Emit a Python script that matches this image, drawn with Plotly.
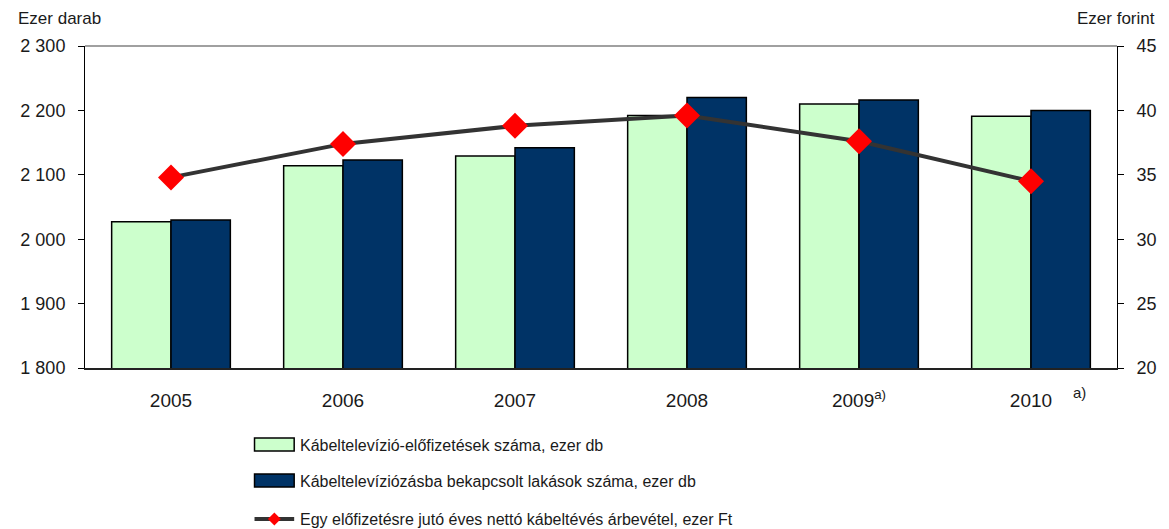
import plotly.graph_objects as go

years = ["2005", "2006", "2007", "2008", "2009", "2010"]
year_labels = ["2005", "2006", "2007", "2008", "2009<sup>a)</sup>", "2010"]
subscriptions = [2027, 2114, 2129, 2192, 2210, 2191]
connected_homes = [2030, 2123, 2142, 2220, 2216, 2200]
revenue_per_sub = [34.8, 37.4, 38.8, 39.6, 37.6, 34.5]

left_ticks = [1800, 1900, 2000, 2100, 2200, 2300]
left_ticktext = ["1 800", "1 900", "2 000", "2 100", "2 200", "2 300"]
right_ticks = [20, 25, 30, 35, 40, 45]

names = [
    "Kábeltelevízió-előfizetések száma, ezer db",
    "Kábeltelevíziózásba bekapcsolt lakások száma, ezer db",
    "Egy előfizetésre jutó éves nettó kábeltévés árbevétel, ezer Ft",
]

OFF = 8  # page body margin
W, H = 1169 - OFF, 529 - OFF
L, R, T, B = 82 - OFF, 1123 - OFF, 46 - OFF, 368 - OFF
FONT = "Liberation Sans, Arial, sans-serif"
TXT = "#1a1a1a"

def px(x):
    return (x - OFF - L) / (R - L)

def py(y):
    return (B - (y - OFF)) / (B - T)

fig = go.Figure()
fig.add_trace(go.Bar(x=years, y=subscriptions, name=names[0], marker=dict(color="#CCFFCC", line=dict(color="black", width=1.5)), showlegend=False))
fig.add_trace(go.Bar(x=years, y=connected_homes, name=names[1], marker=dict(color="#003366", line=dict(color="black", width=1.5)), showlegend=False))
fig.add_trace(go.Scatter(x=years, y=revenue_per_sub, name=names[2], yaxis="y2", mode="lines+markers",
                         line=dict(color="#333333", width=4),
                         marker=dict(symbol="diamond", size=20, color="#FF0000", line=dict(width=0)),
                         showlegend=False))

shapes = []
annotations = []
shapes.append(dict(type="line", xref="paper", yref="paper", x0=0, x1=1, y0=1, y1=1, line=dict(color="#808080", width=1.5)))

rows = [445, 481, 519]
shapes.append(dict(type="rect", xref="paper", yref="paper", x0=px(253), x1=px(293), y0=py(451), y1=py(438),
                   fillcolor="#CCFFCC", line=dict(color="black", width=1.5)))
shapes.append(dict(type="rect", xref="paper", yref="paper", x0=px(253), x1=px(293), y0=py(487), y1=py(474),
                   fillcolor="#003366", line=dict(color="black", width=1.5)))
shapes.append(dict(type="line", xref="paper", yref="paper", x0=px(253), x1=px(293), y0=py(519), y1=py(519),
                   line=dict(color="#333333", width=4)))
cx, cy, r = 273, 519, 6.5
path = "M {} {} L {} {} L {} {} L {} {} Z".format(px(cx - r), py(cy), px(cx), py(cy - r), px(cx + r), py(cy), px(cx), py(cy + r))
shapes.append(dict(type="path", xref="paper", yref="paper", path=path, fillcolor="#FF0000", line=dict(width=0)))
for name, yy in zip(names, rows):
    annotations.append(dict(text=name, xref="paper", yref="paper", x=px(297), y=py(yy), xanchor="left", yanchor="middle",
                            showarrow=False, font=dict(family=FONT, size=16, color=TXT)))

annotations.append(dict(text="Ezer darab", xref="paper", yref="paper", x=px(12), y=py(18), xanchor="left", yanchor="middle",
                        showarrow=False, font=dict(family=FONT, size=17, color=TXT)))
annotations.append(dict(text="Ezer forint", xref="paper", yref="paper", x=px(1163), y=py(18), xanchor="right", yanchor="middle",
                        showarrow=False, font=dict(family=FONT, size=17, color=TXT)))
annotations.append(dict(text="a)", xref="paper", yref="paper", x=px(1085), y=py(392), xanchor="center", yanchor="middle",
                        showarrow=False, font=dict(family=FONT, size=15, color=TXT)))

fig.update_layout(
    width=W, height=H,
    margin=dict(l=L, r=W - R, t=T, b=H - B, pad=0),
    paper_bgcolor="white", plot_bgcolor="white",
    barmode="group", bargap=0.31, bargroupgap=0,
    font=dict(family=FONT, size=18, color=TXT),
    shapes=shapes, annotations=annotations,
    xaxis=dict(tickmode="array", tickvals=years, ticktext=year_labels, showline=True, linecolor="#222222", linewidth=1.5,
               ticks="", showgrid=False, ticklabelstandoff=14, tickfont=dict(size=19)),
    yaxis=dict(range=[1800, 2300], tickvals=left_ticks, ticktext=left_ticktext, showline=True, linecolor="black", linewidth=1,
               ticks="outside", ticklen=6, tickcolor="black", showgrid=False, zeroline=False, ticklabelstandoff=9),
    yaxis2=dict(range=[20, 45], tickvals=right_ticks, overlaying="y", side="right", showline=True, linecolor="black", linewidth=1,
                ticks="outside", ticklen=6, tickcolor="black", showgrid=False, zeroline=False, ticklabelstandoff=9),
)

fig.write_html("out.html")
